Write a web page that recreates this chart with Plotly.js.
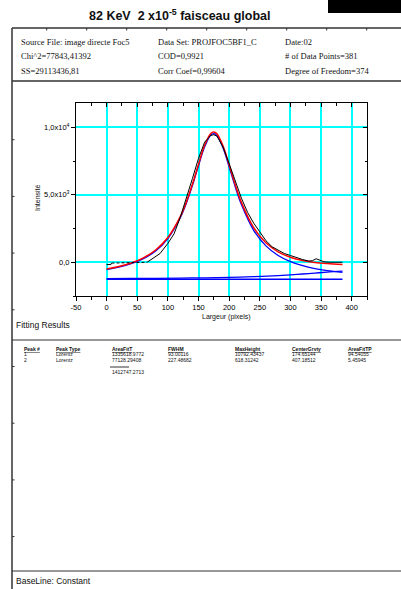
<!DOCTYPE html>
<html>
<head>
<meta charset="utf-8">
<script src="https://cdn.plot.ly/plotly-3.0.1.min.js"></script>
<style>html,body{margin:0;padding:0;background:#fff;}#chart{width:401px;height:589px;}</style>
</head>
<body>
<div id="chart"></div>
<script>
// ---------- data ----------
const fitX = [0,20,40,60,80,100,120,130,140,150,160,170,175,180,190,200,210,220,240,260,280,300,320,340,360,385];
const fitCumulative = [-500,-315,-55,325,906,1833,3357,4445,5776,7267,8666,9542,9653,9516,8605,7205,5735,4439,2565,1442,776,373,132,-10,-93,-161];
const peak1Fit = [-545,-364,-109,265,839,1758,3273,4356,5681,7166,8558,9426,9533,9392,8472,7062,5580,4272,2369,1211,501,46,-257,-468,-620,-756];
const peak2X = [0,40,80,120,160,200,240,280,300,320,340,360,385];
const peak2Fit = [-1214,-1205,-1192,-1175,-1151,-1116,-1064,-984,-932,-870,-801,-732,-664];
const baseX = [0,385];
const baseLine = [-1259,-1259];
const dataStartX = [0,7,8];
const dataStartY = [-170,-170,-60];
const dataDashX = [8,20,30,40,50,60,66];
const dataDashY = [-60,-50,-20,-10,-40,-20,0];
const dataX = [66,75,87,100,110,120,130,140,150,160,170,175,180,190,200,210,220,230,240,250,260,270,280,290,300,310,320,330,336,342,348,355,365,375,385];
const dataY = [0,250,640,1400,2100,3300,4700,6200,7700,8900,9400,9450,9350,8550,7300,5950,4750,3700,2900,2250,1600,1150,900,650,500,330,200,90,120,260,180,30,0,10,0];

const xTickVals = [-50,0,50,100,150,200,250,300,350,400];
const xTickText = ['-50','0','50','100','150','200','250','300','350','400'];
const yTickVals = [0,5000,10000];
const yTickText = ['0,0','5,0x10<sup>3</sup>','1,0x10<sup>4</sup>'];
const xTitle = 'Largeur (pixels)';
const yTitle = 'Intensité';

const headerRows = [
  ['Source File: image directe Foc5','Data Set: PROJFOC5BF1_C','Date:02'],
  ['Chi^2=77843,41392','COD=0,9921','# of Data Points=381'],
  ['SS=29113436,81','Corr Coef=0,99604','Degree of Freedom=374']
];
const tableHeaders = ['Peak #','Peak Type','AreaFitT','FWHM','MaxHeight','CenterGrvty','AreaFitTP'];
const tableRow1 = ['1','Lorentz','1335618.9772','93.00116','10792.43437','174.65144','94.54055'];
const tableRow2 = ['2','Lorentz','77128.29408','227.48682','618.31242','407.18512','5.45945'];
const areaTotal = '1412747.2713';

// ---------- page geometry helpers ----------
const W = 401, H = 589;
const px = v => v / W;
const py = v => 1 - v / H;

const shapes = [];
const line = (x0,y0,x1,y1,w,c) => shapes.push({type:'line',xref:'paper',yref:'paper',x0:px(x0),y0:py(y0),x1:px(x1),y1:py(y1),line:{color:c||'#333',width:w||1.2}});
line(12,28,401,28,1.3);
line(12,28,12,589,1.5);
line(12,81,401,81,1.3);
line(12,340,401,340,1.1);
line(12,571,401,571,1.1);
line(110,367,129,367,1);
for (let k=0;k<9;k++){ const xx = 46.7+40*k; line(xx,28,xx,30.5,1); }
for (let k=1;k<9;k++){ const yy = 83+56.7*k; line(12,yy,14.5,yy,1); }
shapes.push({type:'rect',xref:'paper',yref:'paper',x0:px(328),y0:py(0),x1:px(401),y1:py(13),fillcolor:'#000',line:{width:0}});

const ann = [];
const txt = (x,y,t,size,fam,opt) => ann.push(Object.assign({xref:'paper',yref:'paper',x:px(x),y:py(y),text:t,showarrow:false,xanchor:'left',yanchor:'middle',font:{size:size,family:fam,color:'#111'}},opt||{}));
txt(179,15,'<b>82 KeV  2 x10<sup>-5</sup> faisceau global</b>',12.5,'Liberation Sans, Arial',{xanchor:'center'});
const colX = [19,155.5,282.5], rowY = [42,56.5,71];
headerRows.forEach((r,i)=>r.forEach((t,j)=>txt(colX[j],rowY[i],t,8.5,'Liberation Serif, Times New Roman')));
txt(226,317,xTitle,7,'Liberation Sans, Arial',{xanchor:'center'});
txt(37,198,yTitle,7,'Liberation Sans, Arial',{xanchor:'center',textangle:-90});
txt(14,325,'Fitting Results',8.5,'Liberation Sans, Arial');
const tcol = [22,54,110,165.5,233,290,346];
tableHeaders.forEach((t,j)=>txt(tcol[j],348.5,'<b><u>'+t+'</u></b>',5,'Liberation Sans, Arial'));
tableRow1.forEach((t,j)=>txt(tcol[j],354,t,5,'Liberation Sans, Arial'));
tableRow2.forEach((t,j)=>txt(tcol[j],359.5,t,5,'Liberation Sans, Arial'));
txt(110,372,areaTotal,5,'Liberation Sans, Arial');
txt(14,580.5,'BaseLine: Constant',8.5,'Liberation Sans, Arial');

// ---------- traces ----------
const traces = [
  {x:baseX,y:baseLine,mode:'lines',line:{color:'#0000ff',width:1.3},hoverinfo:'skip'},
  {x:peak2X,y:peak2Fit,mode:'lines',line:{color:'#0000ff',width:1.3,shape:'spline'},hoverinfo:'skip'},
  {x:fitX,y:peak1Fit,mode:'lines',line:{color:'#0000ff',width:1.3,shape:'spline'},hoverinfo:'skip'},
  {x:fitX,y:fitCumulative,mode:'lines',line:{color:'#ff0000',width:1.5,shape:'spline'},hoverinfo:'skip'},
  {x:dataStartX,y:dataStartY,mode:'lines',line:{color:'#000',width:1},hoverinfo:'skip'},
  {x:dataDashX,y:dataDashY,mode:'lines',line:{color:'#000',width:1,dash:'3px,2px'},hoverinfo:'skip'},
  {x:dataX,y:dataY,mode:'lines',line:{color:'#000',width:1},hoverinfo:'skip'},
  {x:[0],y:[0],xaxis:'x2',yaxis:'y2',mode:'markers',marker:{opacity:0},hoverinfo:'skip'}
];

const axFont = {family:'Liberation Sans, Arial',size:7.5,color:'#000'};
const xdom = [px(76), px(367)];
const ydom = [py(296), py(103)];
const layout = {
  width:W, height:H, margin:{l:0,r:0,t:0,b:0}, showlegend:false,
  paper_bgcolor:'#fff', plot_bgcolor:'#fff',
  xaxis:{domain:xdom,range:[-50,425],anchor:'y',tickmode:'array',tickvals:xTickVals,ticktext:xTickText,
    ticks:'outside',ticklen:4,tickcolor:'#000',tickwidth:1,showline:true,linecolor:'#000',linewidth:1,
    showgrid:true,gridcolor:'#00ffff',gridwidth:2,zeroline:false,tickfont:axFont,
    minor:{tickmode:'linear',tick0:-50,dtick:25,ticks:'outside',ticklen:2.5,tickcolor:'#000',showgrid:false},automargin:false},
  yaxis:{domain:ydom,range:[-2500,11800],anchor:'x',tickmode:'array',tickvals:yTickVals,ticktext:yTickText,
    ticks:'outside',ticklen:4,tickcolor:'#000',tickwidth:1,showline:true,linecolor:'#000',linewidth:1,
    showgrid:true,gridcolor:'#00ffff',gridwidth:2,zeroline:false,tickfont:axFont,
    minor:{tickmode:'linear',tick0:-2500,dtick:2500,ticks:'outside',ticklen:2.5,tickcolor:'#000',showgrid:false},automargin:false},
  xaxis2:{domain:xdom,range:[-50,425],overlaying:'x',side:'top',anchor:'y2',tickmode:'array',tickvals:xTickVals,
    showticklabels:false,ticks:'inside',ticklen:4,tickcolor:'#000',showline:true,linecolor:'#000',linewidth:1,showgrid:false,zeroline:false,
    minor:{tickmode:'linear',tick0:-50,dtick:25,ticks:'inside',ticklen:2.5,tickcolor:'#000',showgrid:false}},
  yaxis2:{domain:ydom,range:[-2500,11800],overlaying:'y',side:'right',anchor:'x2',tickmode:'array',tickvals:yTickVals,
    showticklabels:false,ticks:'inside',ticklen:4,tickcolor:'#000',showline:true,linecolor:'#000',linewidth:1,showgrid:false,zeroline:false,
    minor:{tickmode:'linear',tick0:-2500,dtick:2500,ticks:'inside',ticklen:2.5,tickcolor:'#000',showgrid:false}},
  shapes:shapes, annotations:ann
};
Plotly.newPlot('chart', traces, layout, {staticPlot:true, displayModeBar:false});
</script>
</body>
</html>
